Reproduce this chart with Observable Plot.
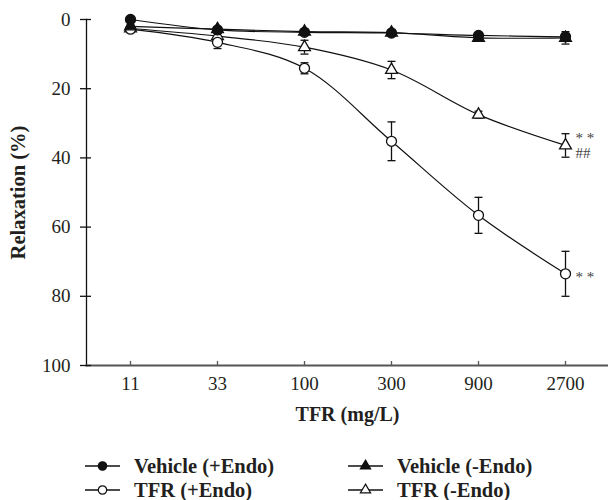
<!DOCTYPE html>
<html>
<head>
<meta charset="utf-8">
<script src="https://cdn.jsdelivr.net/npm/d3@7"></script>
<script src="https://cdn.jsdelivr.net/npm/@observablehq/plot@0.6"></script>
<style>
  html, body { margin: 0; padding: 0; background: #fff; }
  #chart { position: relative; width: 608px; height: 500px; font-family: "Liberation Serif", "DejaVu Serif", serif; }
  #legend { position: absolute; left: 0; top: 440px; width: 608px; height: 60px; }
  .li { position: absolute; display: flex; align-items: center; }
  .li span { font-weight: bold; font-size: 20.5px; line-height: 22px; color: #231f20; margin-left: 13px; }
</style>
</head>
<body>
<div id="chart">
  <div id="plot"></div>
  <div id="legend"></div>
</div>
<script>
// ---- data ----
const doses = ["11", "33", "100", "300", "900", "2700"];
const yTicks = [0, 20, 40, 60, 80, 100];
const seriesNames = ["Vehicle (+Endo)", "Vehicle (-Endo)", "TFR (+Endo)", "TFR (-Endo)"];
const vehPlusMean  = [0.0, 3.0, 3.7, 3.9, 4.6, 5.0];
const vehPlusErr   = [0.5, 0.6, 0.5, 0.6, 0.8, 1.0];
const vehMinusMean = [2.0, 2.8, 3.5, 3.8, 5.3, 5.3];
const vehMinusErr  = [0.5, 0.5, 0.5, 0.6, 0.8, 1.8];
const tfrPlusMean  = [2.8, 6.6, 14.1, 35.2, 56.6, 73.5];
const tfrPlusErr   = [0.8, 1.8, 1.6, 5.6, 5.2, 6.5];
const tfrMinusMean = [2.6, 4.8, 8.0, 14.6, 27.5, 36.4];
const tfrMinusErr  = [0.6, 0.8, 2.0, 2.5, 1.0, 3.4];
const annotations = [
  {series: "TFR (+Endo)", label: "* *", place: "mid"},
  {series: "TFR (-Endo)", label: "* *", place: "above"},
  {series: "TFR (-Endo)", label: "##", place: "below"}
];

// ---- build tables ----
const means = [vehPlusMean, vehMinusMean, tfrPlusMean, tfrMinusMean];
const errs = [vehPlusErr, vehMinusErr, tfrPlusErr, tfrMinusErr];
const styles = {
  "Vehicle (+Endo)": {symbol: "circle", fill: "#111", r: 5},
  "Vehicle (-Endo)": {symbol: "triangle", fill: "#111", r: 4.4},
  "TFR (+Endo)": {symbol: "circle", fill: "#fff", r: 5},
  "TFR (-Endo)": {symbol: "triangle", fill: "#fff", r: 4.4}
};
const rows = [];
seriesNames.forEach((s, si) => doses.forEach((d, i) => rows.push({series: s, dose: d, mean: means[si][i], err: errs[si][i]})));
const lastDose = doses[doses.length - 1];
const annRows = annotations.map(a => {
  const r = rows.find(q => q.series === a.series && q.dose === lastDose);
  return {...a, dose: lastDose, mean: r.mean};
});

const drawOrder = ["TFR (-Endo)", "TFR (+Endo)", "Vehicle (-Endo)", "Vehicle (+Endo)"];
const font = "'Liberation Serif', 'DejaVu Serif', serif";
const capSymbol = {draw(context) { context.moveTo(-4, 0); context.lineTo(4, 0); }};

const marks = [
  Plot.frame({anchor: "left", stroke: "#111", strokeWidth: 1.3}),
  Plot.frame({anchor: "bottom", stroke: "#555", strokeWidth: 2}),
  // y ticks crossing the axis
  Plot.axisY({ticks: yTicks, tickSize: 11, dx: 5, text: null, label: null, stroke: "#111", strokeWidth: 1.3}),
  Plot.axisY({ticks: yTicks, tickSize: 0, tickPadding: 16, label: null, fontSize: 19, fontFamily: font, fill: "#231f20"}),
  // x ticks pointing up
  Plot.axisX({tickSize: 4, dy: -4, text: null, label: null, stroke: "#555", strokeWidth: 1.3}),
  Plot.axisX({tickSize: 0, tickPadding: 11, label: null, fontSize: 19, fontFamily: font, fill: "#231f20"}),
  Plot.text(["TFR (mg/L)"], {frameAnchor: "bottom", dy: 55, lineAnchor: "bottom", textAnchor: "middle", fontSize: 20, fontWeight: "bold", fontFamily: font, fill: "#231f20"}),
  Plot.text(["Relaxation (%)"], {frameAnchor: "left", dx: -68, rotate: -90, textAnchor: "middle", lineAnchor: "middle", fontSize: 20.5, fontWeight: "bold", fontFamily: font, fill: "#231f20"}),
  // lines
  ...drawOrder.map(s => Plot.line(rows.filter(r => r.series === s), {x: "dose", y: "mean", curve: "catmull-rom", stroke: "#111", strokeWidth: 1.2})),
  // error bars
  Plot.ruleX(rows, {x: "dose", y1: d => d.mean - d.err, y2: d => d.mean + d.err, stroke: "#111", strokeWidth: 1.3}),
  Plot.dot(rows, {x: "dose", y: d => d.mean - d.err, symbol: capSymbol, fill: "none", stroke: "#111", strokeWidth: 1.3}),
  Plot.dot(rows, {x: "dose", y: d => d.mean + d.err, symbol: capSymbol, fill: "none", stroke: "#111", strokeWidth: 1.3}),
  // markers
  ...drawOrder.map(s => Plot.dot(rows.filter(r => r.series === s), {x: "dose", y: "mean", symbol: styles[s].symbol, r: styles[s].r, fill: styles[s].fill, stroke: "#111", strokeWidth: 1.3}))
];

// significance marks
["mid", "above", "below"].forEach(p => {
  const off = p === "mid" ? 3 : p === "above" ? -7 : 8;
  marks.push(Plot.text(annRows.filter(a => a.place === p), {x: "dose", y: "mean", text: "label", textAnchor: "start", dx: 10, dy: off, fontSize: 15, fontFamily: font, fill: "#444"}));
});

const chart = Plot.plot({
  width: 608,
  height: 440,
  marginLeft: 86,
  marginRight: 0,
  marginTop: 19,
  marginBottom: 75,
  style: {fontFamily: font, background: "#fff", overflow: "visible"},
  x: {type: "point", domain: doses, padding: 0.5},
  y: {domain: [0, 100], reverse: true},
  marks
});
document.getElementById("plot").appendChild(chart);

// ---- legend ----
const legendPos = [
  {x: 85, y: 26}, {x: 348, y: 26}, {x: 85, y: 50}, {x: 348, y: 50}
];
const legend = d3.select("#legend");
seriesNames.forEach((s, i) => {
  const st = styles[s];
  const item = legend.append("div").attr("class", "li")
    .style("left", legendPos[i].x + "px").style("top", (legendPos[i].y - 11) + "px").style("height", "22px");
  const svg = item.append("svg").attr("width", 36).attr("height", 22);
  svg.append("line").attr("x1", 0).attr("x2", 35).attr("y1", 11).attr("y2", 11).attr("stroke", "#111").attr("stroke-width", 1.3);
  const sym = st.symbol === "circle" ? d3.symbolCircle : d3.symbolTriangle;
  const rr = st.symbol === "circle" ? 4.2 : 3.8;
  svg.append("path").attr("d", d3.symbol(sym, Math.PI * rr * rr)()).attr("transform", "translate(17.5,11)")
    .attr("fill", st.fill).attr("stroke", "#111").attr("stroke-width", 1.2);
  item.append("span").text(s);
});
</script>
</body>
</html>
